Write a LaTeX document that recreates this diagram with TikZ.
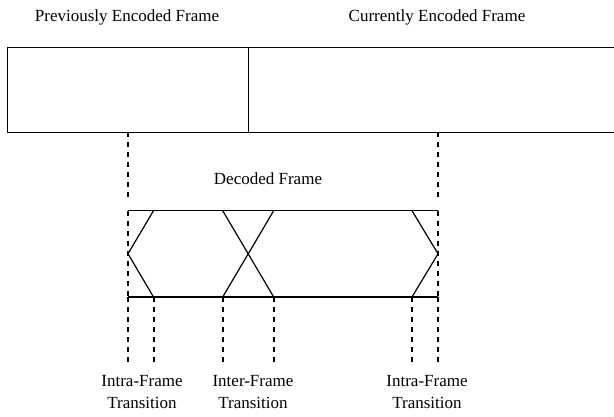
\documentclass[tikz,border=0pt]{standalone}
\usepackage{fontspec}
\setmainfont{Liberation Serif}
\begin{document}
\begin{tikzpicture}[x=1pt,y=-1pt,
  lbl/.style={font=\fontsize{17}{22}\selectfont,anchor=base,inner sep=0pt},
  lbl2/.style={font=\fontsize{17}{22}\selectfont,anchor=north,inner sep=0pt,align=center},
  frame/.style={draw=black,line width=1.3pt},
  guide/.style={draw=black,line width=2pt,dash pattern=on 5pt off 5pt},
  edge/.style={draw=black,line width=1.2pt}]
\useasboundingbox (0,0) rectangle (614,417);
% top labels
\node[lbl] (prev) at (127,21.7) {Previously Encoded Frame};
\node[lbl] (curr) at (437,21.7) {Currently Encoded Frame};
% top frame
\coordinate (tl) at (7.5,47.7);
\coordinate (tr) at (615,47.7);
\coordinate (bl) at (7.5,132.3);
\coordinate (br) at (615,132.3);
\draw[frame] (tr) -- (tl) -- (bl) -- (br);
\coordinate (dt) at (248.7,47.7);
\coordinate (db) at (248.7,132.3);
\draw[frame] (dt) -- (db);
% guides from top frame
\coordinate (g1a) at (128,132.3);
\coordinate (g1b) at (128,197);
\coordinate (g2a) at (438,132.3);
\coordinate (g2b) at (438,197);
\draw[guide] (g1a) -- (g1b);
\draw[guide] (g2a) -- (g2b);
% decoded frame
\node[lbl] (dec) at (268,185) {Decoded Frame};
\coordinate (a) at (128,210.7);
\coordinate (b) at (438,210.7);
\coordinate (c) at (438,297);
\coordinate (d) at (128,297);
\draw[frame] (a) -- (b);
\draw[frame] (d) -- (c);
\draw[guide] (a) -- (d);
\draw[guide] (b) -- (c);
% transitions
\coordinate (lt) at (153.5,210.7);
\coordinate (lm) at (128,253.8);
\coordinate (lb) at (153.5,297);
\draw[edge] (lt) -- (lm) -- (lb);
\coordinate (x1t) at (222.7,210.7);
\coordinate (x2t) at (273.7,210.7);
\coordinate (x1b) at (222.7,297);
\coordinate (x2b) at (273.7,297);
\draw[edge] (x1t) -- (x2b);
\draw[edge] (x2t) -- (x1b);
\coordinate (rt) at (412,210.7);
\coordinate (rm) at (438,253.8);
\coordinate (rb) at (412,297);
\draw[edge] (rt) -- (rm) -- (rb);
% lower guides
\foreach \n/\x in {p1/128,p2/153.5,p3/222.7,p4/273.7,p5/412,p6/438}{
  \coordinate (\n a) at (\x,297);
  \coordinate (\n b) at (\x,365);
  \draw[guide] (\n a) -- (\n b);
}
% labels
\node[lbl2] (t1) at (142,375) {Intra-Frame\\Transition};
\node[lbl2] (t2) at (253,375) {Inter-Frame\\Transition};
\node[lbl2] (t3) at (427,375) {Intra-Frame\\Transition};
\end{tikzpicture}
\end{document}
